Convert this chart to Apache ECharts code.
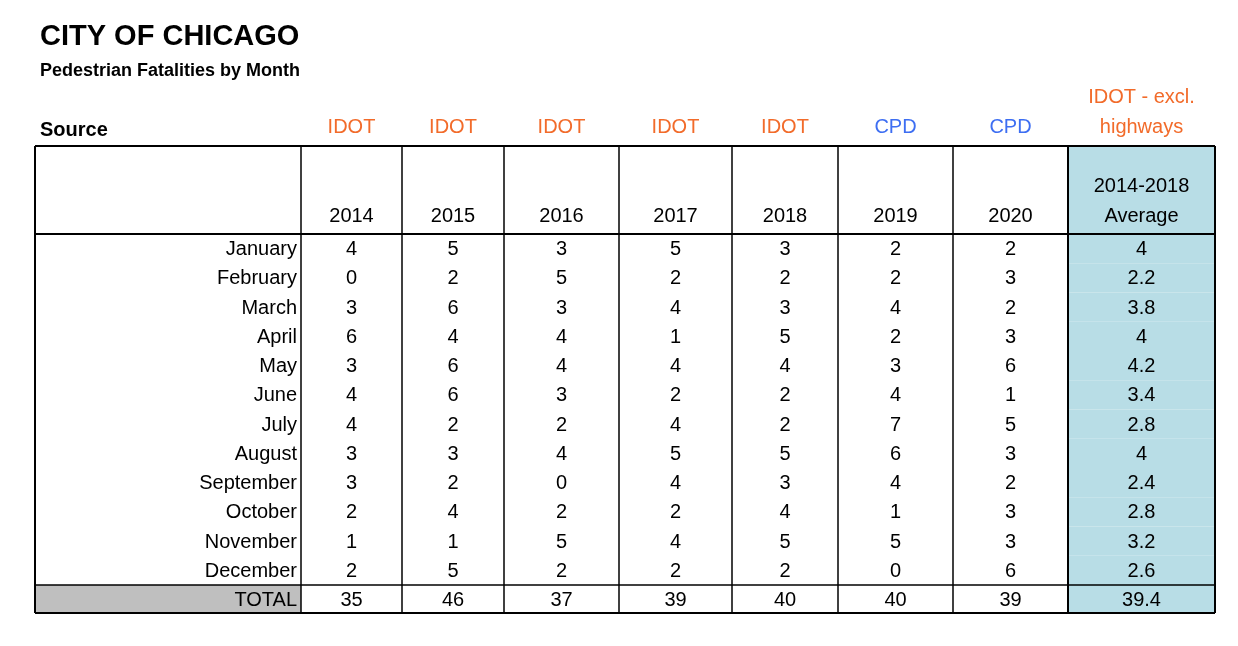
<!DOCTYPE html>
<html><head><meta charset="utf-8">
<script src="https://cdn.jsdelivr.net/npm/echarts@6/dist/echarts.min.js"></script>
<style>html,body{margin:0;background:#fff}#c{width:1238px;height:646px}</style>
</head><body><div id="c"></div>
<script>
const months=["January","February","March","April","May","June","July","August","September","October","November","December"];
const years=["2014","2015","2016","2017","2018","2019","2020"];
const sources=["IDOT","IDOT","IDOT","IDOT","IDOT","CPD","CPD"];
const v2014=[4,0,3,6,3,4,4,3,3,2,1,2];
const v2015=[5,2,6,4,6,6,2,3,2,4,1,5];
const v2016=[3,5,3,4,4,3,2,4,0,2,5,2];
const v2017=[5,2,4,1,4,2,4,5,4,2,4,2];
const v2018=[3,2,3,5,4,2,2,5,3,4,5,2];
const v2019=[2,2,4,2,3,4,7,6,4,1,5,0];
const v2020=[2,3,2,3,6,1,5,3,2,3,3,6];
const avg=["4","2.2","3.8","4","4.2","3.4","2.8","4","2.4","2.8","3.2","2.6"];
const totals=["35","46","37","39","40","40","39","39.4"];

const colEdges=[35,301,402,504,619,732,838,953,1068,1215];
const headTop=146, headBot=234, rowH=29.25, totTop=585, totBot=613;
const ORANGE="#f26b2a", BLUE="#3d6ef2", FONT="Liberation Sans, Arial, sans-serif";
const series=[v2014,v2015,v2016,v2017,v2018,v2019,v2020];

// cells: [col,row,text]; row -1 = header, 12 = total
const cells=[];
months.forEach((m,r)=>{cells.push([0,r,m]);series.forEach((s,c)=>cells.push([c+1,r,String(s[r])]));cells.push([8,r,avg[r]]);});
cells.push([0,12,"TOTAL"]);totals.forEach((t,c)=>cells.push([c+1,12,t]));
years.forEach((y,c)=>cells.push([c+1,-1,y]));
cells.push([8,-1,"2014-2018\nAverage"]);

function rowTop(r){return r<0?headTop:(r>=12?totTop:headBot+r*rowH);}
function rowBot(r){return r<0?headBot:(r>=12?totBot:headBot+(r+1)*rowH);}

const chart=echarts.init(document.getElementById('c'));
chart.setOption({
 animation:false,
 grid:{left:0,right:0,top:0,bottom:0},
 xAxis:{type:'value',min:0,max:1238,show:false},
 yAxis:{type:'value',min:0,max:646,inverse:true,show:false},
 graphic:[
  {type:'text',left:40,top:22,style:{text:"CITY OF CHICAGO",font:"bold 29px "+FONT,fill:"#000"}},
  {type:'text',left:40,top:62,style:{text:"Pedestrian Fatalities by Month",font:"bold 18px "+FONT,fill:"#000"}},
  {type:'text',left:40,top:120,style:{text:"Source",font:"bold 20px "+FONT,fill:"#000"}}
 ],
 series:[
  {type:'custom',data:cells,renderItem:function(p,api){
    const c=api.value(0),r=api.value(1),t=cells[p.dataIndex][2];
    const a=api.coord([colEdges[c],rowTop(r)]),b=api.coord([colEdges[c+1],rowBot(r)]);
    const ch=[];
    let fill=null;
    if(c===8) fill="#b8dde6";
    if(c===0&&r===12) fill="#bfbfbf";
    if(fill) ch.push({type:'rect',shape:{x:a[0],y:a[1],width:b[0]-a[0],height:b[1]-a[1]},style:{fill:fill}});
    const right=(c===0);
    ch.push({type:'text',style:{text:t,x:right?b[0]-4:(a[0]+b[0])/2,y:r<0?b[1]-3:(a[1]+b[1])/2+1,
      align:right?'right':'center',verticalAlign:r<0?'bottom':'middle',font:"20px "+FONT,fill:"#000",lineHeight:30}});
    return {type:'group',children:ch};
  },z:1},
  {type:'custom',data:sources.map((s,i)=>[i+1,s]).concat([[8,"IDOT - excl.\nhighways"]]),renderItem:function(p,api){
    const c=api.value(0);const s=sources[c-1]||"IDOT - excl.\nhighways";
    const a=api.coord([(colEdges[c]+colEdges[c+1])/2,142]);
    return {type:'text',style:{text:s,x:a[0],y:a[1],align:'center',verticalAlign:'bottom',font:"20px "+FONT,lineHeight:30,fill:s==="CPD"?BLUE:ORANGE}};
  },z:2},
  {type:'custom',data:[0],renderItem:function(p,api){
    const ls=[];
    const L=(x1,y1,x2,y2,w)=>{const a=api.coord([x1,y1]),b=api.coord([x2,y2]);ls.push({type:'line',shape:{x1:a[0],y1:a[1],x2:b[0],y2:b[1]},style:{stroke:"#000",lineWidth:w}});};
    colEdges.forEach((x,i)=>L(x,headTop,x,totBot,(i===0||i===colEdges.length-1||i===8)?2:1.5));
    L(35,headTop,1215,headTop,2);L(35,headBot,1215,headBot,2);
    L(35,totTop,1215,totTop,1.5);L(35,totBot,1215,totBot,2);
    return {type:'group',children:ls};
  },z:3}
 ]
});
</script></body></html>
